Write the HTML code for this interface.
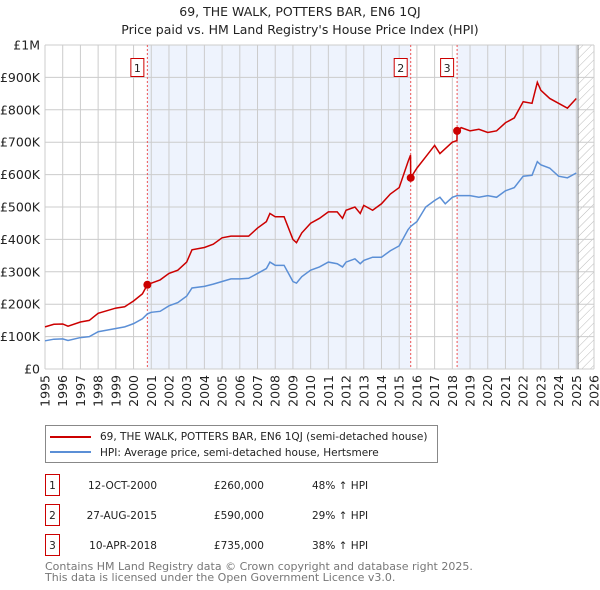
<!DOCTYPE html>
<html><head><meta charset="utf-8"><style>
body{margin:0;background:#fff;font-family:"Liberation Sans","DejaVu Sans",sans-serif;}
#wrap{position:relative;width:600px;height:590px;overflow:hidden;}
text{font-family:"DejaVu Sans","Liberation Sans",sans-serif;}
</style></head><body>
<div id="wrap">
<svg id="svg" width="600" height="590" xmlns="http://www.w3.org/2000/svg">
<text x="300" y="16" text-anchor="middle" font-size="12.5" fill="#222">69, THE WALK, POTTERS BAR, EN6 1QJ</text>
<text x="300" y="34" text-anchor="middle" font-size="12.5" fill="#222">Price paid vs. HM Land Registry's House Price Index (HPI)</text>
<g id="plot"></g>
<rect x="45.5" y="425.5" width="392" height="37" fill="#fff" stroke="#888"/>
<line x1="50" y1="437" x2="91" y2="437" stroke="#cc0000" stroke-width="2"/>
<text x="100" y="440" font-size="10.5" fill="#222">69, THE WALK, POTTERS BAR, EN6 1QJ (semi-detached house)</text>
<line x1="50" y1="452" x2="91" y2="452" stroke="#5b8fd6" stroke-width="2"/>
<text x="100" y="456" font-size="10.5" fill="#222">HPI: Average price, semi-detached house, Hertsmere</text>
<g id="table" font-size="10.5" fill="#222"></g>
<text x="45" y="570" font-size="11" fill="#777">Contains HM Land Registry data © Crown copyright and database right 2025.</text>
<text x="45" y="581" font-size="11" fill="#777">This data is licensed under the Open Government Licence v3.0.</text>
</svg>
</div>
<script>
const hpiDates=[1995.0,1995.5,1996.0,1996.3,1997.0,1997.5,1998.0,1998.5,1999.0,1999.5,2000.0,2000.5,2000.78,2001.0,2001.5,2002.0,2002.5,2003.0,2003.3,2004.0,2004.5,2005.0,2005.5,2006.0,2006.5,2007.0,2007.5,2007.7,2008.0,2008.5,2009.0,2009.2,2009.5,2010.0,2010.5,2011.0,2011.5,2011.8,2012.0,2012.5,2012.8,2013.0,2013.5,2014.0,2014.5,2015.0,2015.5,2015.65,2016.0,2016.5,2017.0,2017.3,2017.6,2018.0,2018.27,2018.5,2019.0,2019.5,2020.0,2020.5,2021.0,2021.5,2022.0,2022.5,2022.8,2023.0,2023.5,2024.0,2024.5,2025.0];
const hpiValues=[87,92,93,88,97,100,115,120,125,130,140,155,170,175,178,195,205,225,250,255,262,270,278,278,280,295,310,330,320,320,270,265,285,305,315,330,325,315,330,340,325,335,345,345,365,380,430,440,455,500,520,530,510,530,535,535,535,530,535,530,550,560,595,598,640,630,620,595,590,605];
const propDates=[1995.0,1995.5,1996.0,1996.3,1997.0,1997.5,1998.0,1998.5,1999.0,1999.5,2000.0,2000.5,2000.78,2001.0,2001.5,2002.0,2002.5,2003.0,2003.3,2004.0,2004.5,2005.0,2005.5,2006.0,2006.5,2007.0,2007.5,2007.7,2008.0,2008.5,2009.0,2009.2,2009.5,2010.0,2010.5,2011.0,2011.5,2011.8,2012.0,2012.5,2012.8,2013.0,2013.5,2014.0,2014.5,2015.0,2015.5,2015.64,2015.65,2016.0,2016.5,2017.0,2017.3,2017.6,2018.0,2018.26,2018.27,2018.5,2019.0,2019.5,2020.0,2020.5,2021.0,2021.5,2022.0,2022.5,2022.8,2023.0,2023.5,2024.0,2024.5,2025.0];
const propValues=[130,138,139,132,145,150,172,180,188,192,210,232,260,265,275,295,305,330,368,375,385,405,410,410,410,435,455,480,470,470,400,390,420,450,465,485,485,465,490,500,480,505,490,510,540,560,640,660,590,620,655,690,665,680,700,705,735,745,735,740,730,735,760,775,825,820,885,860,835,820,805,835];
const saleDates=[2000.78,2015.65,2018.27];
const salePrices=[260,590,735];
const saleLabels=["1","2","3"];
const saleDateText=["12-OCT-2000","27-AUG-2015","10-APR-2018"];
const salePriceText=["£260,000","£590,000","£735,000"];
const saleHpiText=["48% ↑ HPI","29% ↑ HPI","38% ↑ HPI"];
const yTicks=[0,100,200,300,400,500,600,700,800,900,1000];
const yTickLabels=["£0","£100K","£200K","£300K","£400K","£500K","£600K","£700K","£800K","£900K","£1M"];
const xYears=[1995,1996,1997,1998,1999,2000,2001,2002,2003,2004,2005,2006,2007,2008,2009,2010,2011,2012,2013,2014,2015,2016,2017,2018,2019,2020,2021,2022,2023,2024,2025,2026];
const dataEnd=2025.1;

const NS="http://www.w3.org/2000/svg";
const L=45,R=594,T=45,B=369;
const xs=d=>L+(d-1995)/(2026-1995)*(R-L);
const ys=v=>B-v/1000*(B-T);
const g=document.getElementById('plot');
function mk(tag,attrs,parent){const e=document.createElementNS(NS,tag);for(const k in attrs)e.setAttribute(k,attrs[k]);(parent||g).appendChild(e);return e;}
let e=mk('rect',{x:L,y:T,width:R-L,height:B-T,fill:'#fff'});


const bands=[[saleDates[0],saleDates[1]],[saleDates[2],dataEnd]];
bands.forEach((b,i)=>{e=mk('rect',{x:xs(b[0]),y:T,width:xs(b[1])-xs(b[0]),height:B-T,fill:'#eef3fd'});

});
const defs=mk('defs',{});
const pat=mk('pattern',{id:'hatch',width:6,height:6,patternUnits:'userSpaceOnUse',patternTransform:'rotate(45)'},defs);
mk('line',{x1:0,y1:0,x2:0,y2:6,stroke:'#bbb','stroke-width':1},pat);
e=mk('rect',{x:xs(dataEnd),y:T,width:R-xs(dataEnd),height:B-T,fill:'url(#hatch)'});


yTicks.forEach((t,i)=>{e=mk('line',{x1:L,x2:R,y1:ys(t),y2:ys(t),stroke:'#ccc','stroke-width':1});


e=mk('text',{x:L-5,y:ys(t)+4.5,'text-anchor':'end','font-size':'12.5',fill:'#222'});e.textContent=yTickLabels[i];

});
xYears.forEach(yr=>{e=mk('line',{x1:xs(yr),x2:xs(yr),y1:T,y2:B,stroke:'#ccc','stroke-width':1});


e=mk('text',{x:0,y:0,'text-anchor':'end','font-size':'12.5',fill:'#222',transform:`translate(${xs(yr)+4.5},${B+6}) rotate(-90)`});e.textContent=yr;

});
e=mk('line',{x1:xs(dataEnd),x2:xs(dataEnd),y1:T,y2:B,stroke:'#888','stroke-width':1});


saleDates.forEach((d,i)=>{e=mk('line',{x1:xs(d),x2:xs(d),y1:T,y2:B,stroke:'#e55','stroke-width':1,'stroke-dasharray':'2,2'});


e=mk('rect',{x:xs(d)-16.5,y:58.5,width:13,height:18,fill:'#fff',stroke:'#cc0000'});


e=mk('text',{x:xs(d)-10,y:72,'text-anchor':'middle','font-size':'11',fill:'#222'});e.textContent=saleLabels[i];

});
e=mk('polyline',{points:hpiDates.map((d,i)=>xs(d)+','+ys(hpiValues[i])).join(' '),fill:'none',stroke:'#5b8fd6','stroke-width':1.5});


e=mk('polyline',{points:propDates.map((d,i)=>xs(d)+','+ys(propValues[i])).join(' '),fill:'none',stroke:'#cc0000','stroke-width':1.5});


saleDates.forEach((d,i)=>{e=mk('circle',{cx:xs(d),cy:ys(salePrices[i]),r:4,fill:'#cc0000'});

});
const tb=document.getElementById('table');
saleDates.forEach((d,i)=>{const y=485+i*30;
e=mk('rect',{x:45.5,y:y-10.5,width:14,height:21,fill:'#fff',stroke:'#cc0000'},tb);


e=mk('text',{x:52.5,y:y+4,'text-anchor':'middle'},tb);e.textContent=saleLabels[i];


e=mk('text',{x:157,y:y+4,'text-anchor':'end'},tb);e.textContent=saleDateText[i];


e=mk('text',{x:264,y:y+4,'text-anchor':'end'},tb);e.textContent=salePriceText[i];


e=mk('text',{x:312,y:y+4},tb);e.textContent=saleHpiText[i];

});
</script>
</body></html>
